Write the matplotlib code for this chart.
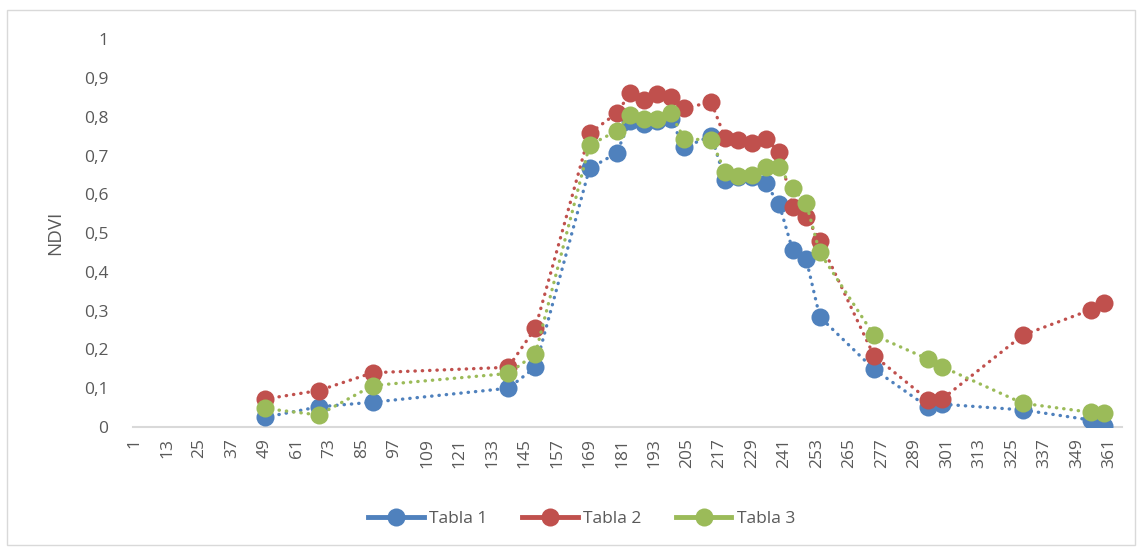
import matplotlib
matplotlib.use("Agg")
import matplotlib.pyplot as plt
from matplotlib.lines import Line2D
from matplotlib.patches import Rectangle

# days of year of each observation
days = [49, 69, 89, 139, 149, 169, 179, 184, 189, 194, 199, 204, 214, 219,
        224, 229, 234, 239, 244, 249, 254, 274, 294, 299, 329, 354, 359]

tabla1 = [0.025, 0.052, 0.064, 0.100, 0.154, 0.667, 0.706, 0.790, 0.781, 0.790,
          0.793, 0.721, 0.751, 0.637, 0.645, 0.645, 0.628, 0.575, 0.456, 0.433,
          0.284, 0.149, 0.051, 0.059, 0.044, 0.018, 0.003]
tabla2 = [0.072, 0.094, 0.140, 0.154, 0.255, 0.757, 0.809, 0.860, 0.843, 0.859,
          0.852, 0.823, 0.837, 0.746, 0.739, 0.732, 0.743, 0.710, 0.568, 0.542,
          0.480, 0.184, 0.070, 0.071, 0.237, 0.302, 0.319]
tabla3 = [0.048, 0.031, 0.107, 0.138, 0.188, 0.727, 0.763, 0.805, 0.793, 0.793,
          0.809, 0.743, 0.740, 0.658, 0.648, 0.650, 0.671, 0.671, 0.615, 0.577,
          0.450, 0.237, 0.175, 0.156, 0.061, 0.038, 0.035]

series_names = ["Tabla 1", "Tabla 2", "Tabla 3"]
colors = ["#4F81BD", "#C0504D", "#9BBB59"]

x_ticks = list(range(1, 362, 12))
y_ticks = [0, 0.1, 0.2, 0.3, 0.4, 0.5, 0.6, 0.7, 0.8, 0.9, 1]
y_labels = ["0", "0,1", "0,2", "0,3", "0,4", "0,5", "0,6", "0,7", "0,8", "0,9", "1"]

plt.rcParams["font.family"] = ["Open Sans", "DejaVu Sans"]
text_color = "#595959"

fig = plt.figure(figsize=(11.38, 5.48), dpi=100)
ax = fig.add_axes([0.117, 0.2208, 0.8687, 0.7077])

for vals, col in zip([tabla1, tabla2, tabla3], colors):
    ax.plot(days, vals, color=col, linewidth=2.4, linestyle=(0, (0.1, 2.1)),
            dash_capstyle="round", marker="o", markersize=13,
            markeredgewidth=0, zorder=3)

ax.set_xlim(0.5, 365.5)
ax.set_ylim(0, 1)
ax.set_xticks(x_ticks)
ax.set_xticklabels([str(t) for t in x_ticks], rotation=90)
ax.set_yticks(y_ticks)
ax.set_yticklabels(y_labels)
ax.tick_params(axis="both", length=0, labelsize=12.5, labelcolor=text_color)
ax.tick_params(axis="y", pad=18)
ax.tick_params(axis="x", pad=8)

for side in ["top", "right", "left"]:
    ax.spines[side].set_visible(False)
ax.spines["bottom"].set_color("#D9D9D9")
ax.spines["bottom"].set_linewidth(1.5)

ax.set_ylabel("NDVI", fontsize=13.5, color=text_color, labelpad=14)

handles = [Line2D([0], [0], color=c, linewidth=3.5, marker="o", markersize=13,
                  markeredgewidth=0) for c in colors]
fig.legend(handles, series_names, loc="center", bbox_to_anchor=(0.511, 0.053),
           ncol=3, frameon=False, fontsize=12.5, labelcolor=text_color,
           handlelength=3.2, columnspacing=2.0, handletextpad=0.3)

fig.patches.append(Rectangle((0.006, 0.006), 0.991, 0.976, transform=fig.transFigure,
                             fill=False, edgecolor="#D9D9D9", linewidth=1))

fig.savefig("out.png", dpi=100)
